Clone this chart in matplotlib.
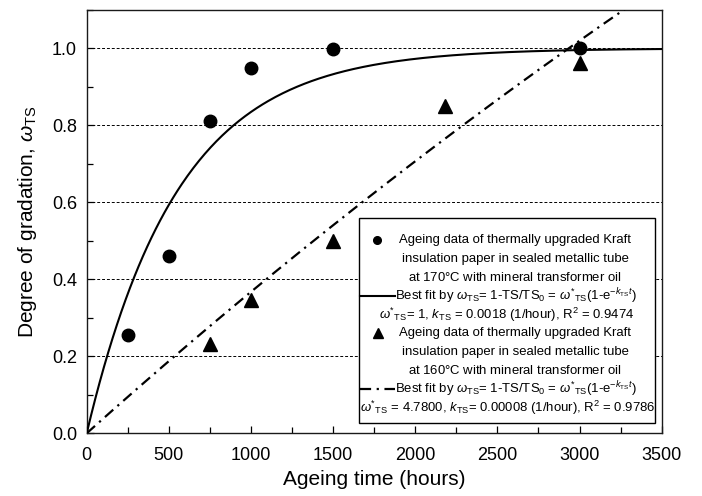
import numpy as np
import matplotlib
matplotlib.use('Agg')
import matplotlib.pyplot as plt
from matplotlib.lines import Line2D
from matplotlib.patches import Rectangle
from matplotlib.ticker import MultipleLocator

plt.rcParams['font.family'] = ['Liberation Sans', 'DejaVu Sans']
plt.rcParams['mathtext.fontset'] = 'custom'
plt.rcParams['mathtext.rm'] = 'Liberation Sans'
plt.rcParams['mathtext.it'] = 'Liberation Sans:italic'
plt.rcParams['mathtext.bf'] = 'Liberation Sans:bold'

# ageing data, 170 C
hours_170 = [250, 500, 750, 1000, 1500, 3000]
omega_170 = [0.255, 0.46, 0.81, 0.95, 0.997, 1.0]

# ageing data, 160 C
hours_160 = [750, 1000, 1500, 2180, 3000]
omega_160 = [0.232, 0.345, 0.50, 0.85, 0.962]

# fit parameters  w = w* (1 - exp(-k t))
w_star_170, k_170 = 1.0, 0.0018
w_star_160, k_160 = 4.78, 0.00008

lab_170 = ['Ageing data of thermally upgraded Kraft',
           'insulation paper in sealed metallic tube',
           'at 170$\\degree$C with mineral transformer oil']
lab_160 = ['Ageing data of thermally upgraded Kraft',
           'insulation paper in sealed metallic tube',
           'at 160$\\degree$C with mineral transformer oil']
fit_txt = (r'Best fit by $\omega_{\rm TS}$= 1-TS/TS$_0$ = '
           r'$\omega^{*}{}_{\rm TS}$(1-e$^{-k_{\rm TS}t}$)')
par_170 = r'$\omega^{*}{}_{\rm TS}$= 1, $k_{\rm TS}$ = 0.0018 (1/hour), R$^2$ = 0.9474'
par_160 = r'$\omega^{*}{}_{\rm TS}$ = 4.7800, $k_{\rm TS}$= 0.00008 (1/hour), R$^2$ = 0.9786'

t = np.linspace(0, 3500, 400)
fit_170 = w_star_170 * (1 - np.exp(-k_170 * t))
fit_160 = w_star_160 * (1 - np.exp(-k_160 * t))

fig = plt.figure(figsize=(7.02, 4.96), dpi=100)
ax = fig.add_axes([0.1235, 0.1264, 0.8191, 0.8538])

dashdot = (0, (5, 2.5, 1, 2.5))
ax.plot(t, fit_170, color='black', lw=1.5, zorder=3)
ax.plot(t, fit_160, color='black', lw=1.6, linestyle=dashdot, zorder=3)
ax.plot(hours_170, omega_170, 'o', color='black', ms=9, zorder=4)
ax.plot(hours_160, omega_160, '^', color='black', ms=9.5, zorder=4)

ax.set_xlim(0, 3500)
ax.set_ylim(0, 1.1)
ax.xaxis.set_major_locator(MultipleLocator(500))
ax.xaxis.set_minor_locator(MultipleLocator(250))
ax.yaxis.set_minor_locator(MultipleLocator(0.1))
ax.set_yticks(np.arange(0, 1.01, 0.2))
ax.set_yticklabels(['%.1f' % v for v in np.arange(0, 1.01, 0.2)])
ax.tick_params(which='both', direction='in', labelsize=13, width=0.9)
ax.tick_params(which='major', length=5)
ax.tick_params(which='minor', length=4)
ax.tick_params(axis='x', pad=10)
ax.tick_params(axis='y', pad=7)
ax.yaxis.grid(True, which='major', color='black', lw=0.7, linestyle=(0, (3, 2)))
for s in ax.spines.values():
    s.set_linewidth(1.0)
    s.set_color('#1a1a1a')

ax.set_xlabel('Ageing time (hours)', fontsize=15, labelpad=4)
ax.set_ylabel(r'Degree of gradation, $\omega_{\rm TS}$', fontsize=15, labelpad=9)


# legend box drawn by hand so the multi-line entries stack like the original
def fx(px):
    return (px - 86.7) / 575.0


def fy(py):
    return (433.3 - py) / 423.5


T = ax.transAxes
ax.add_patch(Rectangle((fx(359), fy(423)), fx(655) - fx(359), fy(218) - fy(423),
                       transform=T, facecolor='white', edgecolor='black',
                       lw=1.0, zorder=6))
rows = [240 + 18.6 * i for i in range(10)]
fs = 9.45
kw = dict(transform=T, fontsize=fs, va='center', zorder=7)

ax.add_line(Line2D([fx(377)], [fy(rows[0])], marker='o', ms=5.5, color='black',
                   transform=T, zorder=7))
for i, s in enumerate(lab_170):
    ax.text(fx(515), fy(rows[i]), s, ha='center', **kw)
ax.add_line(Line2D([fx(360), fx(395)], [fy(rows[3])] * 2, color='black', lw=1.5,
                   transform=T, zorder=7))
ax.text(fx(395), fy(rows[3]), fit_txt, ha='left', **kw)
ax.text(fx(507), fy(rows[4]), par_170, ha='center', **kw)

ax.add_line(Line2D([fx(378)], [fy(rows[5])], marker='^', ms=6.5, color='black',
                   transform=T, zorder=7))
for i, s in enumerate(lab_160):
    ax.text(fx(515), fy(rows[5 + i]), s, ha='center', **kw)
ax.add_line(Line2D([fx(360), fx(395)], [fy(rows[8])] * 2, color='black', lw=1.6,
                   linestyle=dashdot, transform=T, zorder=7))
ax.text(fx(395), fy(rows[8]), fit_txt, ha='left', **kw)
ax.text(fx(508), fy(rows[9]), par_160, ha='center', **kw)

fig.savefig('out.png', dpi=100)
